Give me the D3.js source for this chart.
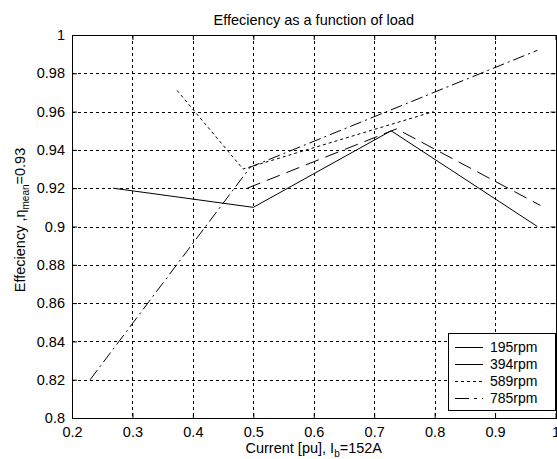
<!DOCTYPE html>
<html>
<head>
<meta charset="utf-8">
<script src="https://cdn.jsdelivr.net/npm/d3@7"></script>
<style>
  html, body { margin: 0; padding: 0; background: #fff; }
  svg text { font-family: "Liberation Sans", Arial, sans-serif; fill: #000; }
</style>
</head>
<body>
<svg id="chart" width="557" height="459"></svg>
<script>
/* Efficiency vs load, four speeds. MATLAB-style line plot. */
const xTicks = [0.2, 0.3, 0.4, 0.5, 0.6, 0.7, 0.8, 0.9, 1];
const yTicks = [0.8, 0.82, 0.84, 0.86, 0.88, 0.9, 0.92, 0.94, 0.96, 0.98, 1];

const seriesNames = ["195rpm", "394rpm", "589rpm", "785rpm"];
const rpm195 = [[0.268, 0.92], [0.5, 0.91], [0.728, 0.95], [0.97, 0.90]];
const rpm394 = [[0.49, 0.92], [0.737, 0.951], [0.975, 0.911]];
const rpm589 = [[0.374, 0.971], [0.483, 0.93], [0.798, 0.96]];
const rpm785 = [[0.23, 0.82], [0.495, 0.931], [0.97, 0.992]];

(function () {
  const svg = d3.select("#chart");
  const m = { left: 72, right: 555.5, top: 35, bottom: 418 };

  const x = d3.scaleLinear().domain([0.2, 1]).range([m.left, m.right]);
  const y = d3.scaleLinear().domain([0.8, 1]).range([m.bottom, m.top]);

  const dashes = ["none", "14,7", "3,3", "12,4,2,4"];
  const series = [rpm195, rpm394, rpm589, rpm785];

  svg.append("defs").append("clipPath").attr("id", "plotClip")
    .append("rect")
    .attr("x", m.left).attr("y", m.top)
    .attr("width", m.right - m.left).attr("height", m.bottom - m.top);

  // grid
  const grid = svg.append("g").attr("stroke", "#000").attr("stroke-width", 1)
    .attr("stroke-dasharray", "3,3").attr("shape-rendering", "crispEdges");
  grid.selectAll("line.gx")
    .data(xTicks.slice(1, -1))
    .join("line")
    .attr("x1", d => Math.round(x(d)) + 0.5).attr("x2", d => Math.round(x(d)) + 0.5)
    .attr("y1", m.top).attr("y2", m.bottom);
  grid.selectAll("line.gy")
    .data(yTicks.slice(1, -1))
    .join("line")
    .attr("y1", d => Math.round(y(d)) + 0.5).attr("y2", d => Math.round(y(d)) + 0.5)
    .attr("x1", m.left).attr("x2", m.right);

  // axes with inward ticks
  const axBottom = d3.axisBottom(x).tickValues(xTicks).tickSize(-5).tickPadding(9)
    .tickFormat(d => d3.format("")(d));
  const axLeft = d3.axisLeft(y).tickValues(yTicks).tickSize(-5).tickPadding(7)
    .tickFormat(d => d3.format("")(+d.toFixed(2)));
  const axTop = d3.axisTop(x).tickValues(xTicks).tickSize(-5).tickFormat("");
  const axRight = d3.axisRight(y).tickValues(yTicks).tickSize(-5).tickFormat("");

  function style(g) {
    g.select(".domain").remove();
    g.selectAll("line").attr("stroke", "#000");
    g.selectAll("text").attr("font-size", "14.5px").attr("fill", "#000");
  }
  svg.append("g").attr("transform", `translate(0,${m.bottom})`).call(axBottom).call(style);
  svg.append("g").attr("transform", `translate(${m.left},0)`).call(axLeft).call(style);
  svg.append("g").attr("transform", `translate(0,${m.top})`).call(axTop).call(style);
  svg.append("g").attr("transform", `translate(${m.right},0)`).call(axRight).call(style);

  svg.append("rect")
    .attr("x", m.left + 0.5).attr("y", m.top + 0.5)
    .attr("width", m.right - m.left).attr("height", m.bottom - m.top)
    .attr("fill", "none").attr("stroke", "#000").attr("shape-rendering", "crispEdges");

  // data lines
  const line = d3.line().x(d => x(d[0])).y(d => y(d[1]));
  svg.append("g").attr("clip-path", "url(#plotClip)")
    .selectAll("path")
    .data(series)
    .join("path")
    .attr("d", line)
    .attr("fill", "none")
    .attr("stroke", "#000")
    .attr("stroke-width", 1)
    .attr("stroke-dasharray", (d, i) => dashes[i]);

  // title
  svg.append("text")
    .attr("x", (m.left + m.right) / 2).attr("y", 25)
    .attr("text-anchor", "middle").attr("font-size", "14.5px")
    .text("Effeciency as a function of load");

  // x label
  const xl = svg.append("text")
    .attr("x", (m.left + m.right) / 2).attr("y", 453)
    .attr("text-anchor", "middle").attr("font-size", "14.5px");
  xl.append("tspan").text("Current [pu], I");
  xl.append("tspan").attr("font-size", "10px").attr("dy", 4).text("b");
  xl.append("tspan").attr("dy", -4).text("=152A");

  // y label
  const yl = svg.append("text")
    .attr("transform", "translate(25,220) rotate(-90)")
    .attr("text-anchor", "middle").attr("font-size", "14.5px");
  yl.append("tspan").text("Effeciency ,η");
  yl.append("tspan").attr("font-size", "10px").attr("dy", 4).text("mean");
  yl.append("tspan").attr("dy", -4).text("=0.93");

  // legend
  const lg = svg.append("g");
  lg.append("rect")
    .attr("x", 448.5).attr("y", 333.5).attr("width", 107).attr("height", 77)
    .attr("fill", "#fff").attr("stroke", "#000").attr("shape-rendering", "crispEdges");
  const items = lg.selectAll("g.item")
    .data(seriesNames)
    .join("g")
    .attr("transform", (d, i) => `translate(0,${347 + i * 17})`);
  items.append("line")
    .attr("x1", 455).attr("x2", 483).attr("y1", 0.5).attr("y2", 0.5)
    .attr("stroke", "#000")
    .attr("stroke-dasharray", (d, i) => i === 1 ? "none" : i === 3 ? "14,5,3,5" : dashes[i]);
  items.append("text")
    .attr("x", 490).attr("y", 5).attr("font-size", "14px")
    .text(d => d);
})();
</script>
</body>
</html>
